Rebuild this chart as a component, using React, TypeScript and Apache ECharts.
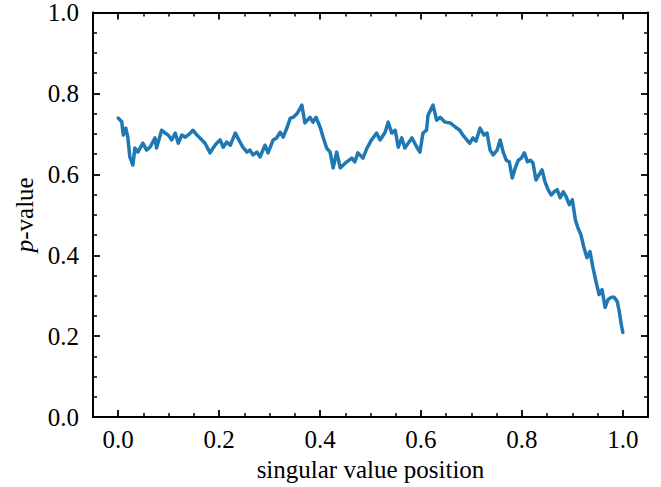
import React, { useEffect, useRef } from "react";
import * as echarts from "echarts";

// Position along the singular value spectrum (normalised 0..1)
const positions: number[] = [
  0.0, 0.007, 0.01, 0.015, 0.019, 0.023, 0.029, 0.033, 0.039, 0.049,
  0.056, 0.063, 0.073, 0.076, 0.086, 0.093, 0.099, 0.106, 0.113, 0.119,
  0.126, 0.133, 0.143, 0.148, 0.156, 0.162, 0.172, 0.182, 0.188, 0.195,
  0.202, 0.208, 0.215, 0.222, 0.232, 0.237, 0.247, 0.255, 0.261, 0.267,
  0.275, 0.281, 0.291, 0.297, 0.307, 0.314, 0.321, 0.327, 0.335, 0.341,
  0.347, 0.355, 0.364, 0.37, 0.38, 0.386, 0.392, 0.4, 0.406, 0.413,
  0.42, 0.426, 0.433, 0.44, 0.453, 0.463, 0.469, 0.475, 0.485, 0.493,
  0.502, 0.512, 0.519, 0.529, 0.535, 0.542, 0.549, 0.555, 0.562, 0.568,
  0.582, 0.592, 0.598, 0.604, 0.611, 0.614, 0.624, 0.631, 0.638, 0.648,
  0.658, 0.668, 0.677, 0.683, 0.691, 0.697, 0.703, 0.709, 0.717, 0.725,
  0.731, 0.737, 0.743, 0.751, 0.757, 0.763, 0.769, 0.775, 0.781, 0.787,
  0.793, 0.799, 0.805, 0.811, 0.817, 0.822, 0.828, 0.834, 0.84, 0.846,
  0.852, 0.858, 0.864, 0.87, 0.876, 0.882, 0.888, 0.894, 0.9, 0.906,
  0.911, 0.917, 0.923, 0.929, 0.935, 0.941, 0.947, 0.953, 0.959, 0.965,
  0.971, 0.977, 0.983, 0.989, 0.993, 0.997, 1.0,
];

// p-value at each position
const pValues: number[] = [
  0.739, 0.73, 0.697, 0.714, 0.692, 0.643, 0.623, 0.665, 0.655, 0.677,
  0.66, 0.667, 0.69, 0.665, 0.709, 0.702, 0.697, 0.685, 0.702, 0.677,
  0.697, 0.692, 0.702, 0.709, 0.697, 0.69, 0.677, 0.653, 0.665, 0.677,
  0.685, 0.667, 0.68, 0.672, 0.702, 0.69, 0.667, 0.655, 0.66, 0.648,
  0.655, 0.643, 0.672, 0.653, 0.685, 0.69, 0.704, 0.692, 0.717, 0.739,
  0.741, 0.751, 0.771, 0.727, 0.741, 0.729, 0.741, 0.717, 0.692, 0.665,
  0.655, 0.616, 0.655, 0.616, 0.631, 0.64, 0.631, 0.653, 0.64, 0.665,
  0.685, 0.702, 0.685, 0.704, 0.729, 0.702, 0.709, 0.667, 0.69, 0.665,
  0.69, 0.667, 0.655, 0.702, 0.709, 0.746, 0.771, 0.734, 0.741, 0.729,
  0.727, 0.717, 0.709, 0.697, 0.685, 0.677, 0.69, 0.682, 0.714, 0.697,
  0.702, 0.66, 0.648, 0.66, 0.685, 0.655, 0.635, 0.631, 0.591, 0.616,
  0.635, 0.64, 0.653, 0.631, 0.635, 0.628, 0.586, 0.599, 0.611, 0.581,
  0.562, 0.549, 0.557, 0.562, 0.542, 0.557, 0.544, 0.525, 0.537, 0.488,
  0.468, 0.451, 0.419, 0.394, 0.409, 0.369, 0.335, 0.303, 0.315, 0.271,
  0.291, 0.296, 0.296, 0.286, 0.261, 0.229, 0.209,
];

// Tick positions for the horizontal axis
const xMajorTicks: number[] = [0, 0.2, 0.4, 0.6, 0.8, 1.0];
const xMinorTicks: number[] = [
  0.05, 0.1, 0.15, 0.25, 0.3, 0.35, 0.45, 0.5, 0.55, 0.65, 0.7, 0.75, 0.85,
  0.9, 0.95,
];

const FONT = "Liberation Serif";
const FONT_SIZE = 25;
const INK = "#000";
const MAJOR_LEN = 7;
const MINOR_LEN = 4;

export default function App() {
  const ref = useRef<HTMLDivElement>(null);

  useEffect(() => {
    if (!ref.current) return;
    const chart = echarts.init(ref.current, undefined, { renderer: "svg" });

    const xBase = {
      type: "value" as const,
      gridIndex: 0,
      min: -0.05,
      max: 1.05,
      splitLine: { show: false },
    };

    const yBase = {
      type: "value" as const,
      gridIndex: 0,
      min: 0,
      max: 1,
      interval: 0.2,
      splitLine: { show: false },
      minorSplitLine: { show: false },
      minorTick: {
        show: true,
        splitNumber: 4,
        length: MINOR_LEN,
        lineStyle: { color: INK, width: 1.5 },
      },
      axisTick: {
        show: true,
        inside: true,
        length: MAJOR_LEN,
        lineStyle: { color: INK, width: 1.8 },
      },
    };

    const majorTick = {
      show: true,
      inside: true,
      length: MAJOR_LEN,
      customValues: xMajorTicks,
      lineStyle: { color: INK, width: 1.8 },
    };
    const minorTick = {
      show: true,
      inside: true,
      length: MINOR_LEN,
      customValues: xMinorTicks,
      lineStyle: { color: INK, width: 1.5 },
    };

    chart.setOption({
      animation: false,
      textStyle: { fontFamily: FONT },
      grid: { left: 93, right: 13, top: 12, bottom: 69 },
      xAxis: [
        {
          ...xBase,
          position: "bottom",
          axisLine: { show: true, onZero: false, lineStyle: { color: INK, width: 2 } },
          axisTick: majorTick,
          axisLabel: {
            show: true,
            customValues: xMajorTicks,
            formatter: (v: number) => v.toFixed(1),
            color: INK,
            fontFamily: FONT,
            fontSize: FONT_SIZE,
            margin: 10,
          },
          name: "singular value position",
          nameLocation: "middle",
          nameGap: 37,
          nameTextStyle: { color: INK, fontFamily: FONT, fontSize: FONT_SIZE },
        },
        {
          ...xBase,
          position: "bottom",
          axisLine: { show: false, onZero: false },
          axisTick: minorTick,
          axisLabel: { show: false },
        },
        {
          ...xBase,
          position: "top",
          axisLine: { show: true, onZero: false, lineStyle: { color: INK, width: 2 } },
          axisTick: majorTick,
          axisLabel: { show: false },
        },
        {
          ...xBase,
          position: "top",
          axisLine: { show: false, onZero: false },
          axisTick: minorTick,
          axisLabel: { show: false },
        },
      ],
      yAxis: [
        {
          ...yBase,
          position: "left",
          axisLine: { show: true, onZero: false, lineStyle: { color: INK, width: 2 } },
          axisLabel: {
            show: true,
            formatter: (v: number) => v.toFixed(1),
            color: INK,
            fontFamily: FONT,
            fontSize: FONT_SIZE,
            margin: 14,
          },
          name: "{i|p}-value",
          nameLocation: "middle",
          nameRotate: 90,
          nameGap: 52,
          nameTextStyle: {
            color: INK,
            fontFamily: FONT,
            fontSize: FONT_SIZE,
            rich: {
              i: { fontStyle: "italic", fontFamily: FONT, fontSize: FONT_SIZE, color: INK },
            },
          },
        },
        {
          ...yBase,
          position: "right",
          axisLine: { show: true, onZero: false, lineStyle: { color: INK, width: 2 } },
          axisLabel: { show: false },
        },
      ],
      series: [
        {
          type: "line",
          xAxisIndex: 0,
          yAxisIndex: 0,
          data: positions.map((x, i) => [x, pValues[i]]),
          showSymbol: false,
          symbol: "none",
          lineStyle: { color: "#1f77b4", width: 3.5, join: "round", cap: "round" },
          clip: true,
        },
      ],
    });

    return () => chart.dispose();
  }, []);

  return (
    <div
      ref={ref}
      style={{ position: "fixed", left: 0, top: 0, width: 661, height: 487, background: "#fff" }}
    />
  );
}
